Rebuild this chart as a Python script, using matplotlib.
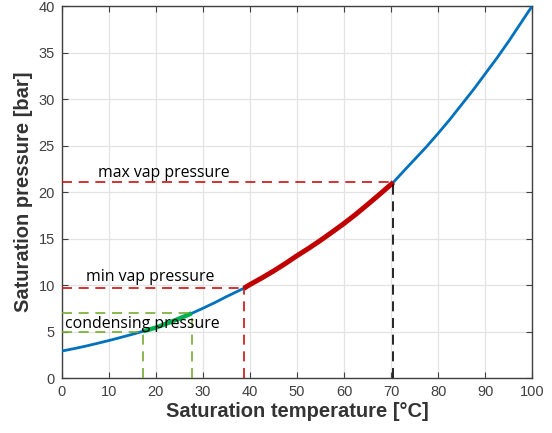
import numpy as np
import matplotlib
matplotlib.use("Agg")
import matplotlib.pyplot as plt

# Saturation curve (temperature in C, pressure in bar)
temp_c = [0, 2.5, 5, 7.5, 10, 12.5, 15, 17.3, 20, 22.5, 25, 27.6, 30, 32.5,
          35, 38.7, 40, 42.5, 45, 47.5, 50, 52.5, 55, 57.5, 60, 62.5, 65,
          67.5, 70, 70.5, 72.5, 75, 77.5, 80, 82.5, 85, 87.5, 90, 92.5, 95,
          97.5, 100]
press_bar = [2.9, 3.15, 3.42, 3.72, 4.03, 4.36, 4.7, 5.03, 5.42, 5.9, 6.4,
             6.95, 7.5, 8.1, 8.75, 9.65, 10.05, 10.75, 11.5, 12.3, 13.15,
             13.95, 14.8, 15.7, 16.62, 17.6, 18.65, 19.72, 20.82, 21.05,
             22.15, 23.5, 24.85, 26.3, 27.8, 29.4, 31.0, 32.7, 34.4, 36.2,
             38.1, 40.0]

# Operating ranges
cond_temp = [17.3, 27.6]
cond_press = [5.0, 7.0]
vap_temp = [38.7, 70.5]
vap_press = [9.65, 21.05]

labels = ["condensing pressure", "min vap pressure", "max vap pressure"]

T = np.array(temp_c)
P = np.array(press_bar)

fig = plt.figure(figsize=(5.52, 4.33), dpi=100)
ax = fig.add_axes([0.112, 0.127, 0.852, 0.859])

blue = "#0072BD"
dark_red = "#C00000"
green = "#00B050"
olive = "#77AC30"

ax.plot(T, P, color=blue, lw=2.0, zorder=3)

m = (T >= cond_temp[0]) & (T <= cond_temp[1])
ax.plot(T[m], P[m], color=green, lw=3.2, zorder=4, solid_capstyle="butt")
m = (T >= vap_temp[0]) & (T <= vap_temp[1])
ax.plot(T[m], P[m], color=dark_red, lw=3.6, zorder=4, solid_capstyle="butt")

dash = dict(lw=1.2, dashes=(6, 4), zorder=5)
# condensing guides
ax.plot([0, cond_temp[0]], [cond_press[0]] * 2, color=olive, **dash)
ax.plot([0, cond_temp[1]], [cond_press[1]] * 2, color=olive, **dash)
ax.plot([cond_temp[0]] * 2, [0, cond_press[0]], color=olive, **dash)
ax.plot([cond_temp[1]] * 2, [0, cond_press[1]], color=olive, **dash)
# vaporising guides
ax.plot([0, vap_temp[0]], [vap_press[0]] * 2, color="#CC1111", **dash)
ax.plot([vap_temp[0]] * 2, [0, vap_press[0]], color="#CC1111", **dash)
ax.plot([0, vap_temp[1]], [vap_press[1]] * 2, color="#CC1111", **dash)
ax.plot([vap_temp[1]] * 2, [0, vap_press[1]], color="black", **dash)

txt = dict(fontsize=11.4, family=["Open Sans", "DejaVu Sans"], color="black", zorder=6)
ax.text(0.7, 5.4, labels[0], **txt)
ax.text(5.1, 10.4, labels[1], **txt)
ax.text(7.6, 21.6, labels[2], **txt)

ax.set_xlim(0, 100)
ax.set_ylim(0, 40)
ax.set_xticks(np.arange(0, 101, 10))
ax.set_yticks(np.arange(0, 41, 5))
ax.grid(True, color="#e3e3e3", lw=0.9)
ax.set_axisbelow(True)
ax.tick_params(direction="in", top=True, right=True, length=4, width=0.8,
               color="#404040", labelcolor="#404040", labelsize=10.5, pad=5)
for lab in ax.get_xticklabels() + ax.get_yticklabels():
    lab.set_family("Liberation Sans")
for s in ax.spines.values():
    s.set_color("#404040")
    s.set_linewidth(1.0)

ax.set_xlabel("Saturation temperature [°C]", fontsize=14.5, fontweight="bold",
              family="Liberation Sans", color="#333333", labelpad=2)
ax.set_ylabel("Saturation pressure [bar]", fontsize=14.5, fontweight="bold",
              family="Liberation Sans", color="#333333", labelpad=4)

fig.savefig("out.png", dpi=100)
